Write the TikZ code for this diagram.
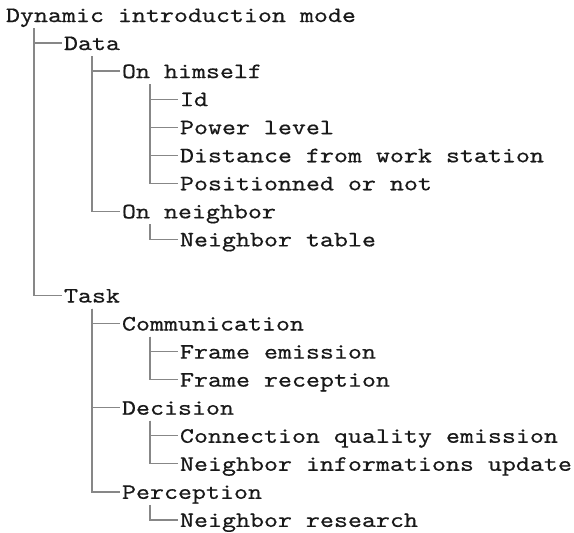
\documentclass[tikz,border=0pt]{standalone}
\usepackage{fontspec}
\newfontfamily\treefont{lmmono10-regular.otf}[FakeStretch=1.212,FakeBold=0.5]
\definecolor{txtcol}{RGB}{25,25,25}
\definecolor{linecol}{RGB}{135,135,135}
\begin{document}
\begin{tikzpicture}[x=1pt,y=-1pt,
  item/.style={anchor=base west,inner sep=0pt,outer sep=0pt,font=\treefont\fontsize{22}{26}\selectfont,text=txtcol},
  conn/.style={draw=linecol,line width=1.3pt}]
\useasboundingbox[fill=white] (0,0) rectangle (574,533);
\newcommand\rowy[1]{22+28.05*#1}
\node[item] (r0) at (6,{\rowy{0}}) {Dynamic introduction mode};
\node[item] (r1) at (64,{\rowy{1}}) {Data};
\node[item] (r2) at (122,{\rowy{2}}) {On himself};
\node[item] (r3) at (180,{\rowy{3}}) {Id};
\node[item] (r4) at (180,{\rowy{4}}) {Power level};
\node[item] (r5) at (180,{\rowy{5}}) {Distance from work station};
\node[item] (r6) at (180,{\rowy{6}}) {Positionned or not};
\node[item] (r7) at (122,{\rowy{7}}) {On neighbor};
\node[item] (r8) at (180,{\rowy{8}}) {Neighbor table};
\node[item] (r10) at (64,{\rowy{10}}) {Task};
\node[item] (r11) at (122,{\rowy{11}}) {Communication};
\node[item] (r12) at (180,{\rowy{12}}) {Frame emission};
\node[item] (r13) at (180,{\rowy{13}}) {Frame reception};
\node[item] (r14) at (122,{\rowy{14}}) {Decision};
\node[item] (r15) at (180,{\rowy{15}}) {Connection quality emission};
\node[item] (r16) at (180,{\rowy{16}}) {Neighbor informations update};
\node[item] (r17) at (122,{\rowy{17}}) {Perception};
\node[item] (r18) at (180,{\rowy{18}}) {Neighbor research};
\newcommand\conn[2]{\draw[conn] ([xshift=28pt,yshift=-6pt]#1.base west) |- ([xshift=-2pt,yshift=7pt]#2.base west);}
\conn{r0}{r1}\conn{r0}{r10}
\conn{r1}{r2}\conn{r1}{r7}
\conn{r2}{r3}\conn{r2}{r4}\conn{r2}{r5}\conn{r2}{r6}
\conn{r7}{r8}
\conn{r10}{r11}\conn{r10}{r14}\conn{r10}{r17}
\conn{r11}{r12}\conn{r11}{r13}
\conn{r14}{r15}\conn{r14}{r16}
\conn{r17}{r18}
\end{tikzpicture}
\end{document}
